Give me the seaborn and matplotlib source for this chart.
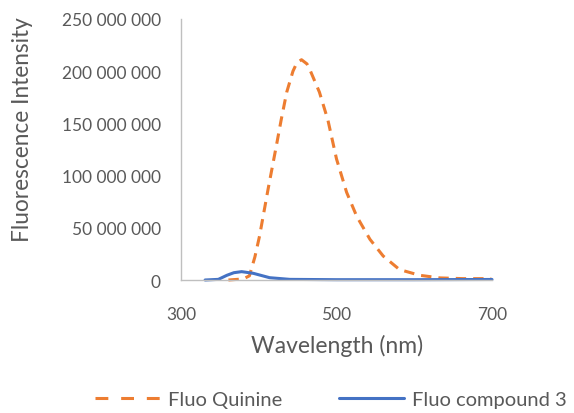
import numpy as np
import pandas as pd
import matplotlib
matplotlib.use("Agg")
import matplotlib.pyplot as plt
import seaborn as sns
from matplotlib.ticker import FuncFormatter
from matplotlib.lines import Line2D

quinine_wl = [361, 380, 388, 395, 401, 412, 423, 429, 436, 444, 449, 455, 462, 466, 478, 489, 500, 513, 526, 543, 560, 581, 607, 633, 663, 699]
quinine_int = [0, 1e6, 4e6, 22e6, 42e6, 87e6, 130e6, 154e6, 180e6, 200e6, 208e6, 211e6, 207e6, 201e6, 180e6, 153e6, 116e6, 84e6, 61e6, 39e6, 23e6, 10e6, 4.5e6, 2e6, 1.3e6, 1.3e6]
comp3_wl = [331, 348, 359, 368, 378, 393, 414, 440, 500, 600, 700]
comp3_int = [0, 0.6e6, 4.5e6, 7e6, 8e6, 6.4e6, 2.2e6, 0.6e6, 0.3e6, 0.3e6, 0.5e6]
series_names = ["Fluo Quinine", "Fluo compound 3"]
x_ticks = [300, 500, 700]
y_ticks = [0, 50e6, 100e6, 150e6, 200e6, 250e6]

df = pd.concat([
    pd.DataFrame({"Wavelength": quinine_wl, "Intensity": quinine_int, "Series": series_names[0]}),
    pd.DataFrame({"Wavelength": comp3_wl, "Intensity": comp3_int, "Series": series_names[1]}),
])

sns.set_style("white")
plt.rcParams["font.family"] = ["Lato", "DejaVu Sans"]

fig = plt.figure(figsize=(5.74, 4.14), dpi=100)
ax = fig.add_axes([181/574, 1 - 281/414, 311/574, 261/414])

orange, blue = "#ED7D31", "#4472C4"
text_c = "#595959"
palette = {series_names[0]: orange, series_names[1]: blue}
sns.lineplot(data=df, x="Wavelength", y="Intensity", hue="Series", style="Series",
             palette=palette, dashes={series_names[0]: (3.4, 2.3), series_names[1]: ""},
             linewidth=2.2, ax=ax, legend=False, sort=False)

ax.set_xlim(300, 700)
ax.set_ylim(0, 250e6)
ax.set_xticks(x_ticks)
ax.set_yticks(y_ticks)
ax.yaxis.set_major_formatter(FuncFormatter(lambda v, p: f"{int(v):,}".replace(",", " ")))
gray = "#bfbfbf"
for s in ["top", "right"]:
    ax.spines[s].set_visible(False)
for s in ["left", "bottom"]:
    ax.spines[s].set_color(gray)
    ax.spines[s].set_linewidth(1.0)
ax.tick_params(axis="both", direction="inout", length=11, width=1, color=gray,
               labelcolor=text_c, labelsize=12.5)
ax.tick_params(axis="y", pad=9)
ax.tick_params(axis="x", pad=13)
ax.set_xlabel("Wavelength (nm)", fontsize=16.5, color=text_c, va="center")
ax.set_ylabel("Fluorescence Intensity", fontsize=16.3, color=text_c, va="center")
ax.xaxis.set_label_coords((337 - 181) / 311, (281 - 346) / 261)
ax.yaxis.set_label_coords((23 - 181) / 311, (281 - 130) / 261)
for l in ax.lines:
    l.set_clip_on(False)
    l.set_solid_joinstyle("round")
    l.set_dash_joinstyle("round")

handles = [Line2D([], [], color=orange, lw=2.2, dashes=(4.2, 4.2)),
           Line2D([], [], color=blue, lw=2.2)]
fig.legend(handles, series_names, loc="center left", bbox_to_anchor=(95/574, 14/414), ncol=2,
           frameon=False, fontsize=14.5, handlelength=3.23, columnspacing=2.83,
           labelcolor=text_c, handletextpad=0.4, borderpad=0, borderaxespad=0)

fig.savefig("out.png", dpi=100)
